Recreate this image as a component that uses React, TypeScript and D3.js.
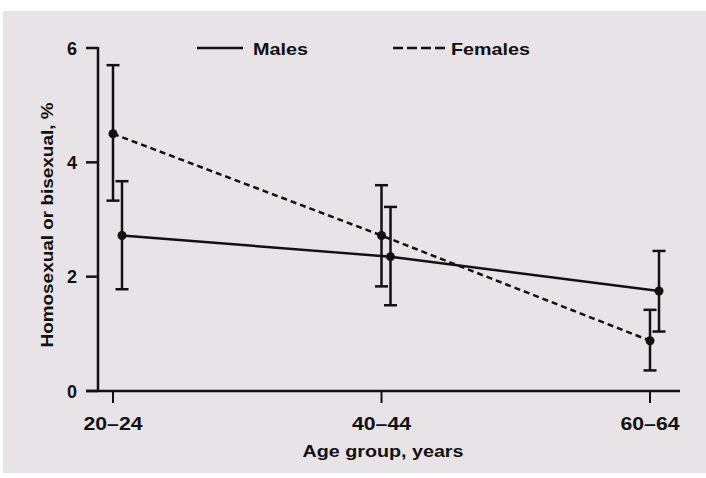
import * as d3 from 'd3';
import React from 'react';

const ageGroups = ['20–24', '40–44', '60–64'];

const femaleValues = [4.5, 2.72, 0.88];
const femaleLower = [3.33, 1.83, 0.36];
const femaleUpper = [5.7, 3.6, 1.42];

const maleValues = [2.72, 2.35, 1.75];
const maleLower = [1.78, 1.5, 1.04];
const maleUpper = [3.67, 3.22, 2.45];

const yTicks = [0, 2, 4, 6];

const font = '"Liberation Sans", Arial, sans-serif';

export default function App() {
  const W = 706;
  const H = 478;
  const x = d3.scalePoint<string>().domain(ageGroups).range([113, 650]);
  const y = d3.scaleLinear().domain([0, 6]).range([391, 48]);

  const series = [
    { key: 'Females', values: femaleValues, lo: femaleLower, hi: femaleUpper, dx: 0, dash: '6,4' },
    { key: 'Males', values: maleValues, lo: maleLower, hi: maleUpper, dx: 9, dash: undefined },
  ];

  const line = d3
    .line<number>()
    .x((_, i) => (x(ageGroups[i]) as number))
    .y((v) => y(v));

  const axisLeft = 98;
  const capW = 6.5;

  return (
    <svg width={W} height={H} style={{ position: 'absolute', left: 0, top: 0 }} fontFamily={font}>
      <rect x={0} y={0} width={W} height={H} fill="#fff" />
      <rect x={3} y={11} width={W - 3} height={462} fill="#e7e3e6" />

      {/* y axis */}
      <line x1={axisLeft} x2={axisLeft} y1={y(6) - 1} y2={y(0)} stroke="#111" strokeWidth={2.5} />
      {yTicks.map((t) => (
        <g key={t}>
          <line x1={86} x2={axisLeft} y1={y(t)} y2={y(t)} stroke="#111" strokeWidth={2.5} />
          <text x={77} y={y(t) + 6.5} textAnchor="end" fontSize={18} fontWeight="bold" fill="#111">
            {t}
          </text>
        </g>
      ))}

      {/* x axis */}
      <line x1={86} x2={680} y1={y(0)} y2={y(0)} stroke="#111" strokeWidth={2.5} />
      {ageGroups.map((g) => (
        <g key={g}>
          <line x1={x(g)} x2={x(g)} y1={y(0)} y2={y(0) + 12} stroke="#111" strokeWidth={2} />
          <text
            x={x(g)}
            y={430}
            textAnchor="middle"
            fontSize={18}
            fontWeight="bold"
            fill="#111"
            textLength={59}
            lengthAdjust="spacingAndGlyphs"
          >
            {g}
          </text>
        </g>
      ))}

      <text
        x={383}
        y={457}
        textAnchor="middle"
        fontSize={16}
        fontWeight="bold"
        fill="#111"
        textLength={161}
        lengthAdjust="spacingAndGlyphs"
      >
        Age group, years
      </text>
      <text
        transform={`translate(53, 225) rotate(-90)`}
        textAnchor="middle"
        fontSize={16}
        fontWeight="bold"
        fill="#111"
        textLength={245}
        lengthAdjust="spacingAndGlyphs"
      >
        Homosexual or bisexual, %
      </text>

      {/* series */}
      {series.map((s) => (
        <g key={s.key} transform={`translate(${s.dx},0)`}>
          <path
            d={line(s.values) || ''}
            fill="none"
            stroke="#111"
            strokeWidth={2.5}
            strokeDasharray={s.dash}
          />
          {s.values.map((v, i) => {
            const cx = x(ageGroups[i]) as number;
            return (
              <g key={i}>
                <line x1={cx} x2={cx} y1={y(s.lo[i])} y2={y(s.hi[i])} stroke="#111" strokeWidth={2.5} />
                <line x1={cx - capW} x2={cx + capW} y1={y(s.lo[i])} y2={y(s.lo[i])} stroke="#111" strokeWidth={2.5} />
                <line x1={cx - capW} x2={cx + capW} y1={y(s.hi[i])} y2={y(s.hi[i])} stroke="#111" strokeWidth={2.5} />
                <circle cx={cx} cy={y(v)} r={4.5} fill="#111" />
              </g>
            );
          })}
        </g>
      ))}

      {/* legend */}
      <line x1={197} x2={243} y1={48} y2={48} stroke="#111" strokeWidth={2.5} />
      <text x={253} y={55} fontSize={17} fontWeight="bold" fill="#111" textLength={55} lengthAdjust="spacingAndGlyphs">
        Males
      </text>
      <line x1={393} x2={445} y1={48} y2={48} stroke="#111" strokeWidth={2.5} strokeDasharray="10,4" />
      <text x={451} y={55} fontSize={17} fontWeight="bold" fill="#111" textLength={79} lengthAdjust="spacingAndGlyphs">
        Females
      </text>
    </svg>
  );
}
